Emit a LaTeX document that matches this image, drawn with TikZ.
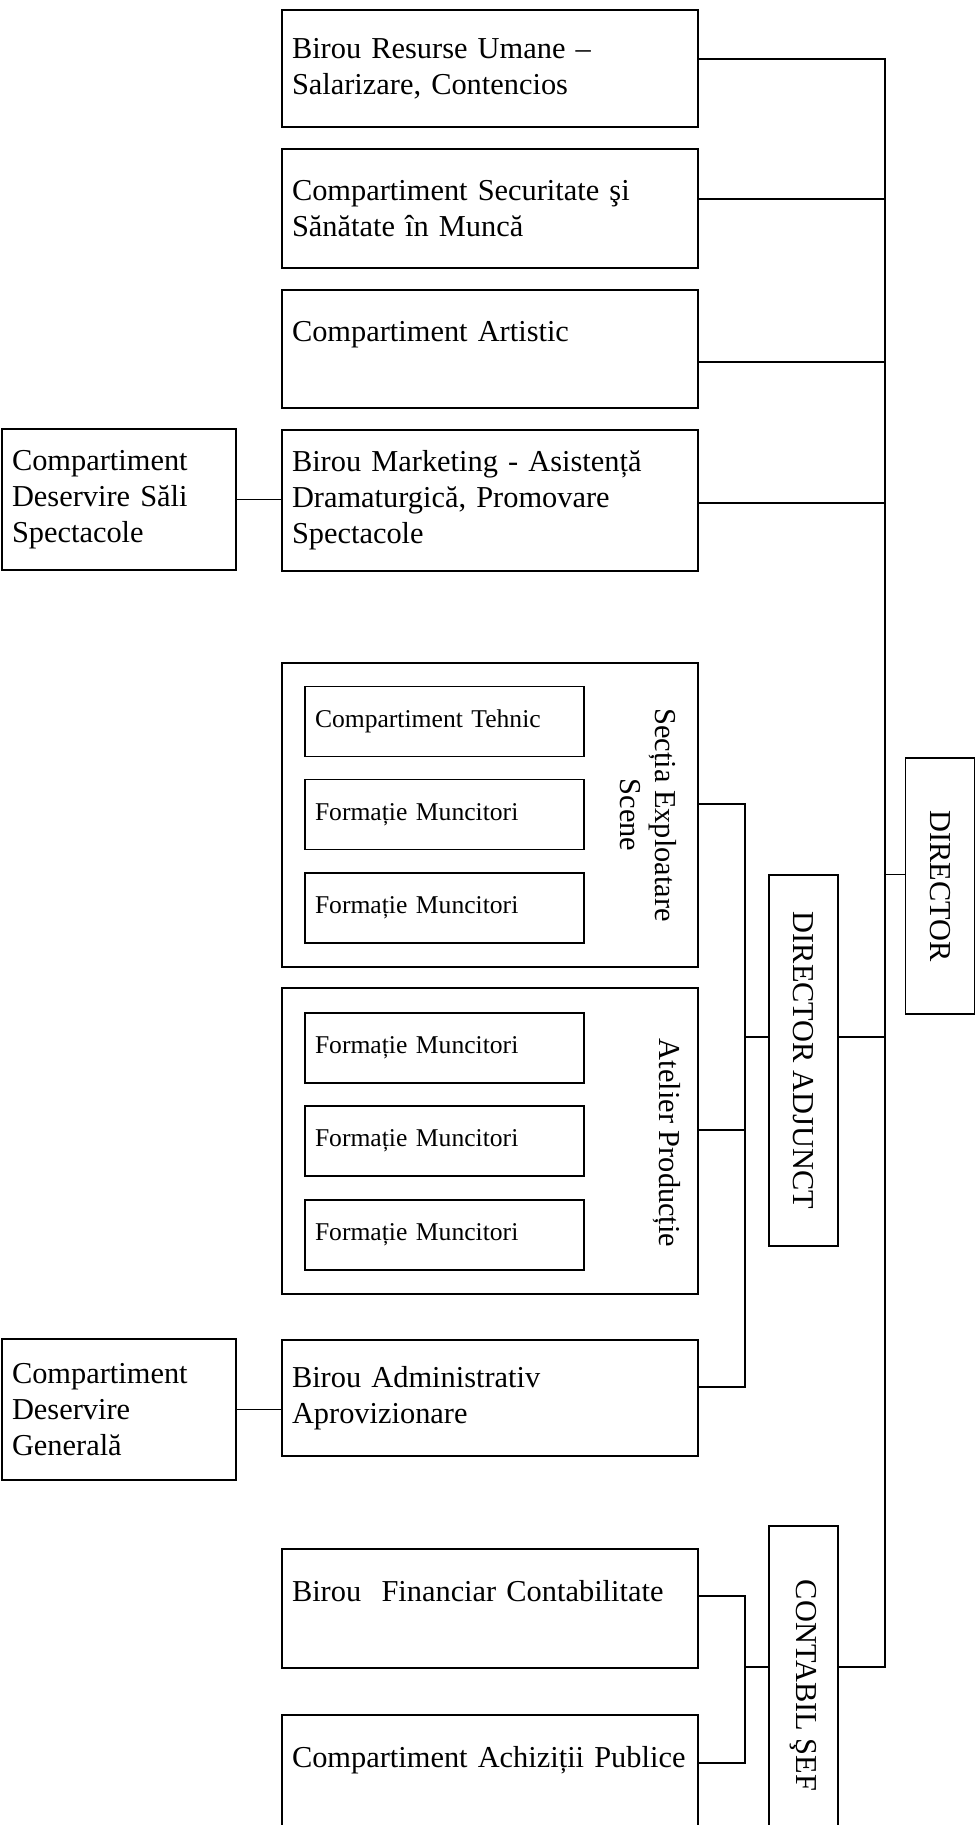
\documentclass[tikz,border=0pt]{standalone}
\usepackage{fontspec}
\setmainfont{Liberation Serif}
\begin{document}
\begin{tikzpicture}[x = 0.5pt, y = -0.5pt, line width = 0.8pt,
    unit/.style = {draw, align = left, inner xsep = 5pt, inner ysep = 0pt, text width = 198pt, font = \fontsize{15.2}{18}\selectfont},
    side/.style = {unit, text width = 107pt},
    crew/.style = {draw, align = left, inner xsep = 5pt, inner ysep = 0pt, text width = 129.5pt, minimum height = 35pt, font = \fontsize{12.8}{15}\selectfont},
    group/.style = {draw, minimum width = 208pt},
    head/.style = {draw, rotate = -90, inner sep = 0pt, minimum height = 34.5pt, font = \fontsize{15.2}{18}\selectfont},
    vlabel/.style = {rotate = -90, align = center, font = \fontsize{15.2}{17.5}\selectfont}]
        \useasboundingbox (0, 0) rectangle (979, 1825);

        \node[unit, minimum height = 58.5pt] (rhu) at (490, 68.5) {Birou Resurse Umane –\\Salarizare, Contencios};
        \node[unit, minimum height = 59.5pt] (ssm) at (490, 208.5) {Compartiment Securitate şi\\Sănătate în Muncă};
        \node[unit, minimum height = 59pt] (art) at (490, 349) {Compartiment Artistic\\\mbox{}};
        \node[unit, minimum height = 70.5pt] (mkt) at (490, 500.5) {Birou Marketing - Asistență\\Dramaturgică, Promovare\\Spectacole};
        \node[side, minimum height = 70.5pt] (sali) at (119, 499.5) {Compartiment\\Deservire Săli\\Spectacole};

        \node[group, minimum height = 152pt] (ses) at (490, 815) {};
        \node[vlabel] (seslbl) at (648, 815) {Secția Exploatare\\Scene};
        \node[crew] (teh) at (444.5, 721.5) {Compartiment Tehnic};
        \node[crew] (fm1) at (444.5, 814.5) {Formație Muncitori};
        \node[crew] (fm2) at (444.5, 908) {Formație Muncitori};

        \node[group, minimum height = 153pt] (atp) at (490, 1141) {};
        \node[vlabel] (atplbl) at (667, 1143) {Atelier Producție};
        \node[crew] (fm3) at (444.5, 1048) {Formație Muncitori};
        \node[crew] (fm4) at (444.5, 1141) {Formație Muncitori};
        \node[crew] (fm5) at (444.5, 1235) {Formație Muncitori};

        \node[unit, minimum height = 58pt] (adm) at (490, 1398) {Birou Administrativ\\Aprovizionare};
        \node[side, minimum height = 70.5pt] (gen) at (119, 1409.5) {Compartiment\\Deservire\\Generală};
        \node[unit, minimum height = 59.5pt] (fin) at (490, 1608.5) {Birou~~Financiar Contabilitate\\\mbox{}};
        \node[unit, minimum height = 59.5pt] (ach) at (490, 1774.5) {Compartiment Achiziții Publice\\\mbox{}};

        \node[head, minimum width = 185.5pt] (da) at (803.5, 1060.5) {DIRECTOR ADJUNCT};
        \node[head, minimum width = 128pt] (dir) at (940, 886) {DIRECTOR};
        \node[head, minimum width = 159.5pt] (cs) at (803.5, 1685.5) {CONTABIL ŞEF};

        \coordinate (ja) at (745, 0);
        \coordinate (jd) at (885, 0);
        \coordinate (csr) at ([yshift = 9.25pt]cs.north);
        \coordinate (csl) at ([yshift = 9.25pt]cs.south);
        \coordinate (admr) at ([yshift = 5.5pt]adm.east);
        \coordinate (achr) at ([yshift = 5.75pt]ach.east);

        \draw (sali.east) -- (sali.east -| mkt.west);
        \draw (gen.east) -- (gen.east -| adm.west);

        \draw ([yshift = 4.75pt]rhu.east) -| (jd |- csr) -- (csr);
        \foreach \n/\s in {ssm/4.75, art/-6.5, mkt/-1.25}
          \draw ([yshift = \s pt]\n.east) coordinate (c) -- (c -| jd);
        \draw ([yshift = 5.75pt]dir.south) coordinate (c) -- (c -| jd);
        \draw ([yshift = 11.75pt]da.north) coordinate (c) -- (c -| jd);

        \draw ([yshift = 5.5pt]ses.east) -| (ja |- admr) -- (admr);
        \draw ([yshift = 5.5pt]atp.east) coordinate (c) -- (c -| ja);
        \draw ([yshift = 11.75pt]da.south) coordinate (c) -- (c -| ja);

        \draw ([yshift = 6.25pt]fin.east) -| (ja |- achr) -- (achr);
        \draw (csl) -- (csl -| ja);
      \end{tikzpicture}
\end{document}
